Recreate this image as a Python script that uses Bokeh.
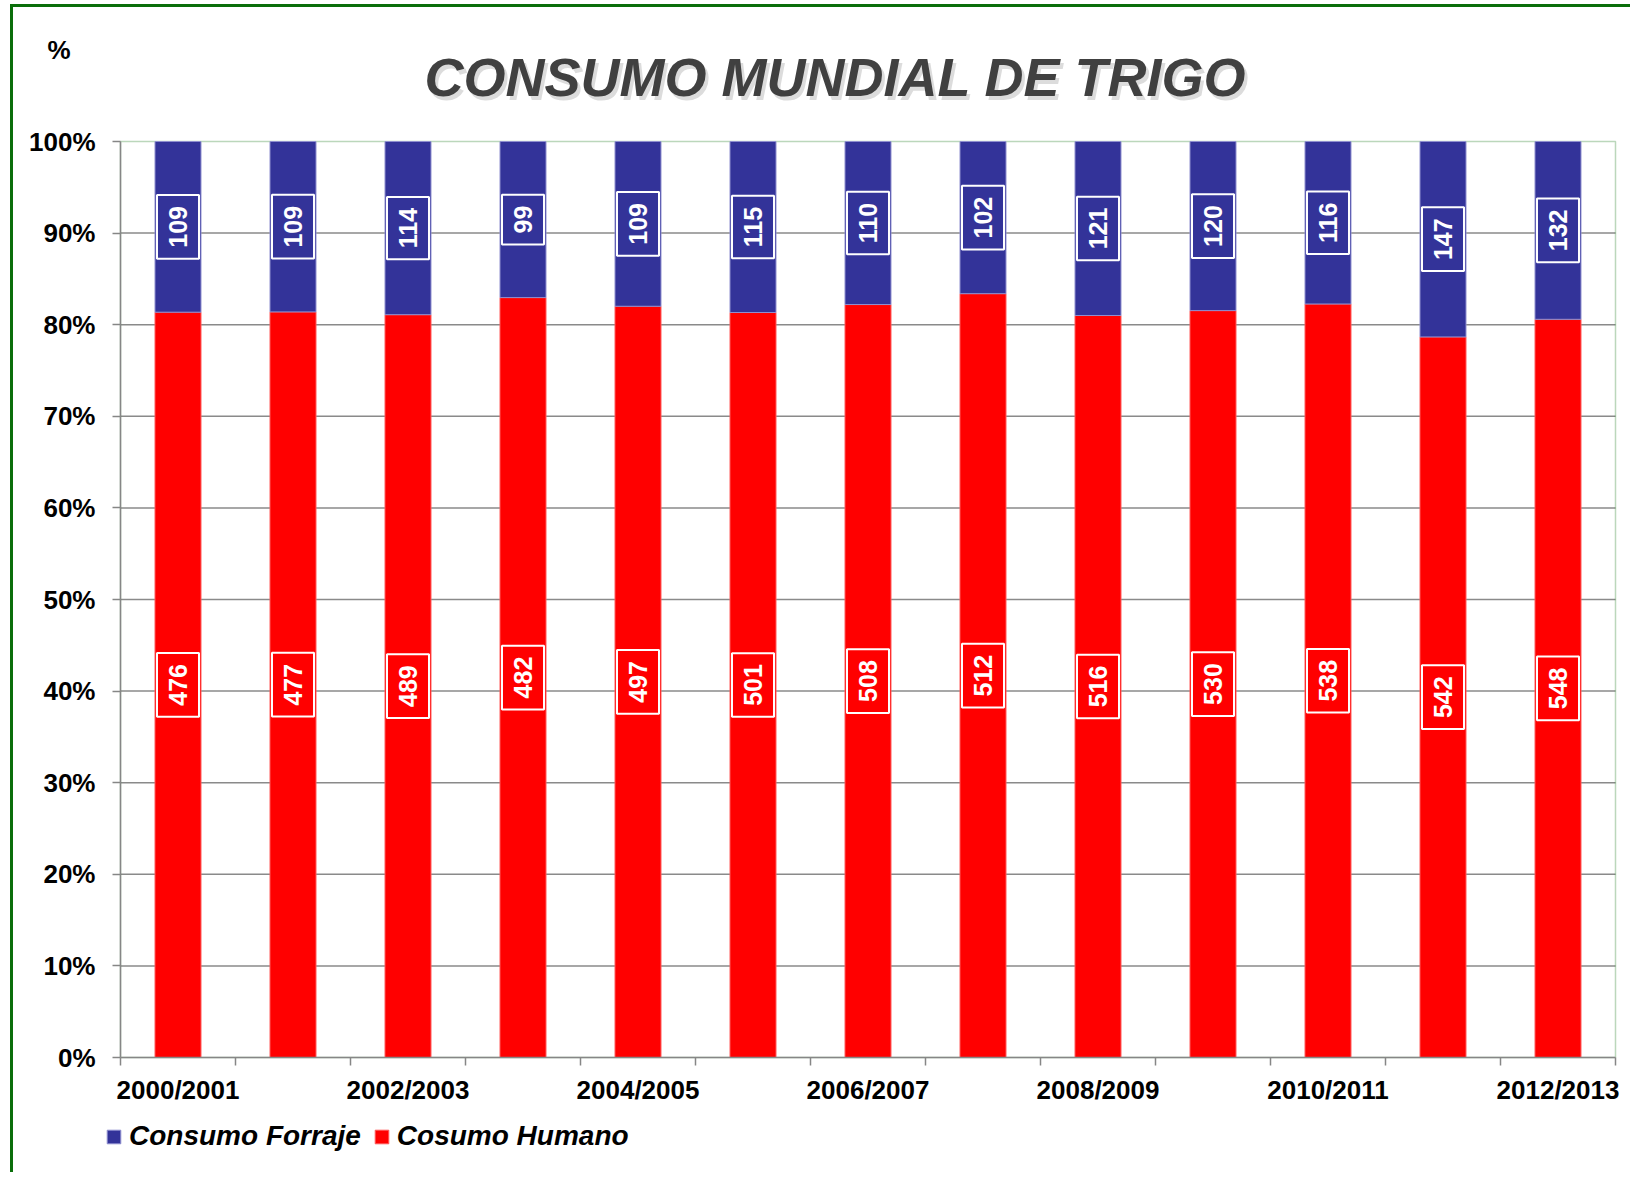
import math
from bokeh.plotting import figure
from bokeh.models import (ColumnDataSource, FixedTicker, NumeralTickFormatter, Label,
                          Legend, LegendItem, Range1d, BoxAnnotation)
from bokeh.core.properties import value
from bokeh.embed import file_html
from bokeh.resources import INLINE

# ---- data ----
seasons = ["2000/2001", "2001/2002", "2002/2003", "2003/2004", "2004/2005", "2005/2006",
           "2006/2007", "2007/2008", "2008/2009", "2009/2010", "2010/2011", "2011/2012",
           "2012/2013"]
forraje = [109, 109, 114, 99, 109, 115, 110, 102, 121, 120, 116, 147, 132]
humano = [476, 477, 489, 482, 497, 501, 508, 512, 516, 530, 538, 542, 548]
y_ticks = [i / 10 for i in range(11)]
title_text = "CONSUMO MUNDIAL DE TRIGO"
unit_text = "%"
series_names = ["Consumo Forraje", "Cosumo Humano"]

BLUE = "#333399"
RED = "#FF0000"
GREEN = "#1f7a1f"
GREY = "#868686"
FONT = "Liberation Sans"

# ---- canvas / plot-area geometry (pixels) ----
W, H = 1620, 1168
PL, PT, PW, PH = 107, 134, 1495, 916   # plot area inside the canvas

n = len(seasons)
xpx = PW / n
x_range = Range1d(-PL / xpx, (W - PL) / xpx)
y_range = Range1d(-(H - PT - PH) / PH, 1 + PT / PH)

xs = [i + 0.5 for i in range(n)]
h_frac = [h / (h + f) for h, f in zip(humano, forraje)]
src = ColumnDataSource(dict(
    x=xs,
    hum=h_frac,
    one=[1.0] * n,
    zero=[0.0] * n,
    hum_mid=[v / 2 for v in h_frac],
    for_mid=[(v + 1) / 2 for v in h_frac],
    hum_txt=[str(v) for v in humano],
    for_txt=[str(v) for v in forraje],
))

p = figure(width=W, height=H, output_backend="svg", toolbar_location=None,
           x_range=x_range, y_range=y_range,
           min_border=0)
p.styles = {"border-left": "3px solid #0a6e0a", "border-top": "3px solid #0a6e0a",
            "margin-left": "10px", "margin-top": "4px"}
p.outline_line_color = None
p.background_fill_color = "white"
p.border_fill_color = "white"

# plot-area frame (green), drawn beneath everything
p.add_layout(BoxAnnotation(left=0, right=n, bottom=0, top=1, fill_alpha=0,
                           line_color=GREEN, line_width=1.5, level="underlay"))

# horizontal grid lines across the plot area
gy = y_ticks[1:-1]
p.segment(x0=[0] * len(gy), x1=[n] * len(gy), y0=gy, y1=gy,
          line_color="#8a8a8a", line_width=1.5, level="underlay")

# bars
r_h = p.vbar(x="x", bottom="zero", top="hum", width=0.4, source=src,
             fill_color=RED, line_color="#ff5a5a", line_width=1)
r_f = p.vbar(x="x", bottom="hum", top="one", width=0.4, source=src,
             fill_color=BLUE, line_color="#8f8fcf", line_width=1)

# value labels
for ycol, tcol, col in (("hum_mid", "hum_txt", RED), ("for_mid", "for_txt", BLUE)):
    p.text(x="x", y=ycol, text=tcol, source=src, angle=math.pi / 2,
           text_align="center", text_baseline="middle",
           text_font=value(FONT), text_font_style="bold", text_font_size="25px",
           text_color="white", background_fill_color=col,
           border_line_color="white", border_line_width=2, padding=(11, 12))

# axes (drawn at data 0, limited to the plot area)
xa = p.xaxis[0]
xa.fixed_location = 0
xa.bounds = (0, n)
xa.ticker = FixedTicker(ticks=[xs[i] for i in range(0, n, 2)], minor_ticks=list(range(n + 1)))
xa.major_label_overrides = {xs[i]: seasons[i] for i in range(0, n, 2)}
xa.major_tick_out = 0
xa.major_tick_in = 0
xa.minor_tick_out = 8
xa.minor_tick_in = 0
xa.minor_tick_line_color = GREY
xa.minor_tick_line_width = 1.5
xa.axis_line_color = GREY
xa.axis_line_width = 1.5
xa.major_label_standoff = 9
xa.major_label_text_font = FONT
xa.major_label_text_font_style = "bold"
xa.major_label_text_font_size = "26px"
xa.major_label_text_color = "black"

ya = p.yaxis[0]
ya.fixed_location = 0
ya.bounds = (0, 1)
ya.ticker = FixedTicker(ticks=y_ticks)
ya.formatter = NumeralTickFormatter(format="0%")
ya.major_tick_out = 8
ya.major_tick_in = 0
ya.minor_tick_out = 0
ya.minor_tick_in = 0
ya.major_tick_line_color = GREY
ya.major_tick_line_width = 1.5
ya.axis_line_color = GREY
ya.axis_line_width = 1.5
ya.major_label_standoff = 17
ya.major_label_text_font = FONT
ya.major_label_text_font_style = "bold"
ya.major_label_text_font_size = "26px"
ya.major_label_text_color = "black"

p.xgrid.visible = False
p.ygrid.visible = False

# title (with faint shadow) and unit label
tx, ty = (835 - 13 - PL) / xpx, 1 + (PT - (99 - 7) + 23) / PH
for dx, dy, c, a in ((3, -4, "#9a9a9a", 0.35), (0, 0, "#404040", 1.0)):
    p.add_layout(Label(x=tx, y=ty, x_offset=dx, y_offset=dy,
                       text=title_text, text_align="center", text_baseline="alphabetic",
                       text_font=FONT, text_font_style="bold italic", text_font_size="54px",
                       text_color=c, text_alpha=a))
ux, uy = (47 - 13 - PL) / xpx, 1 + (PT - (60 - 7) + 11) / PH
p.add_layout(Label(x=ux, y=uy, text=unit_text, text_align="left", text_baseline="alphabetic",
                   text_font=FONT, text_font_style="bold", text_font_size="26px",
                   text_color="black"))

legend = Legend(items=[LegendItem(label=series_names[0], renderers=[r_f]),
                       LegendItem(label=series_names[1], renderers=[r_h])],
                orientation="horizontal", location=(105 - 13, H - (1152 - 7)),
                glyph_width=17, glyph_height=17, label_standoff=7, spacing=12,
                padding=0, margin=0, border_line_alpha=0, background_fill_alpha=0,
                label_text_font=FONT, label_text_font_style="bold italic",
                label_text_font_size="28px", label_text_color="black", label_height=30)
p.add_layout(legend)

open("out.html", "w").write(file_html(p, INLINE))
